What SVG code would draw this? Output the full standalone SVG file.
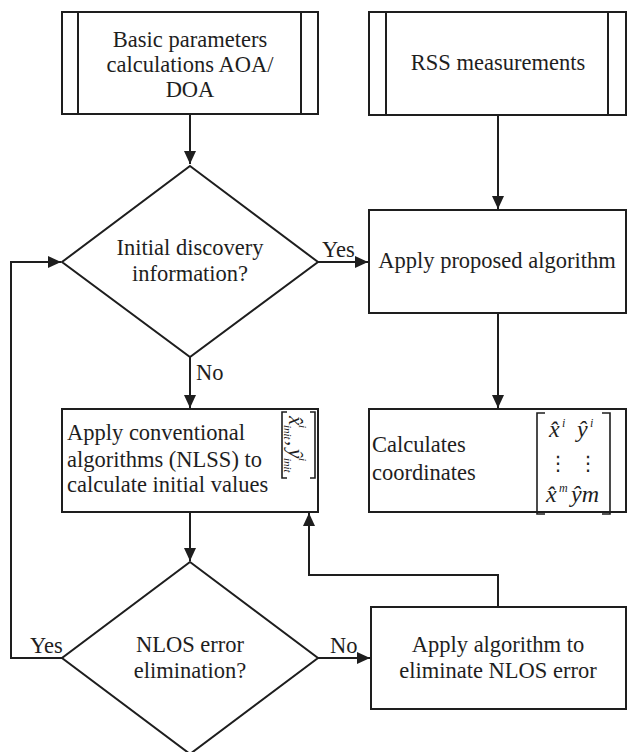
<svg xmlns="http://www.w3.org/2000/svg" width="627" height="752" viewBox="0 0 627 752">
  <style>
    .box { fill: #fff; stroke: #1e1e1e; stroke-width: 2; }
    .edge { fill: none; stroke: #1e1e1e; stroke-width: 2; }
    .brk { fill: none; stroke: #1e1e1e; stroke-width: 1.6; }
    .t { font-family: "Liberation Serif", "Times New Roman", serif; font-size: 22.5px; fill: #1e1e1e; }
    .c { text-anchor: middle; }
    .m { font-family: "Liberation Serif", "Times New Roman", serif; font-style: italic; fill: #1e1e1e; }
    .dots { font-family: "DejaVu Serif", "DejaVu Sans", serif; font-size: 20px; fill: #1e1e1e; text-anchor: middle; }
  </style>
  <defs>
    <marker id="arrow" markerUnits="userSpaceOnUse" markerWidth="14" markerHeight="12" refX="13" refY="6" orient="auto">
      <path d="M0,0 L13,6 L0,12 Z" fill="#1e1e1e"/>
    </marker>
  </defs>
  <rect width="627" height="752" fill="#fff"/>

  <!-- connectors -->
  <g id="connectors">
    <path class="edge" d="M190,114 V164" marker-end="url(#arrow)"/>
    <path class="edge" d="M498,115 V209" marker-end="url(#arrow)"/>
    <path class="edge" d="M318,262 H368" marker-end="url(#arrow)"/>
    <path class="edge" d="M190,357 V408" marker-end="url(#arrow)"/>
    <path class="edge" d="M498,313 V408" marker-end="url(#arrow)"/>
    <path class="edge" d="M190,512 V561" marker-end="url(#arrow)"/>
    <path class="edge" d="M62,658 H11 V262 H61" marker-end="url(#arrow)"/>
    <path class="edge" d="M318,658 H370" marker-end="url(#arrow)"/>
    <path class="edge" d="M498,607 V575 H309 V513" marker-end="url(#arrow)"/>
    <text class="t" x="322" y="257">Yes</text>
    <text class="t" x="196" y="380">No</text>
    <text class="t" x="30" y="653">Yes</text>
    <text class="t" x="330" y="653">No</text>
  </g>

  <!-- predefined process: basic parameters -->
  <g id="basic-params">
    <rect class="box" x="62" y="12" width="256" height="102"/>
    <path class="edge" d="M78,12 V114 M301,12 V114"/>
    <text class="t c" x="190" y="47">Basic parameters</text>
    <text class="t c" x="190" y="72">calculations AOA/</text>
    <text class="t c" x="190" y="97">DOA</text>
  </g>

  <!-- predefined process: RSS -->
  <g id="rss">
    <rect class="box" x="369" y="12" width="257" height="103"/>
    <path class="edge" d="M386,12 V115 M608,12 V115"/>
    <text class="t c" x="498" y="70">RSS measurements</text>
  </g>

  <!-- decision: initial discovery -->
  <g id="initial-discovery">
    <path class="box" d="M190,166 L318,262 L190,357 L62,262 Z"/>
    <text class="t c" x="190" y="255">Initial discovery</text>
    <text class="t c" x="190" y="281">information?</text>
  </g>

  <!-- proposed algorithm -->
  <g id="proposed">
    <rect class="box" x="369" y="210" width="257" height="103"/>
    <text class="t c" x="497" y="268">Apply proposed algorithm</text>
  </g>

  <!-- conventional algorithms -->
  <g id="conventional">
    <rect class="box" x="62" y="409" width="256" height="103"/>
    <text class="t" x="67" y="440">Apply conventional</text>
    <text class="t" x="67" y="467">algorithms (NLSS) to</text>
    <text class="t" x="67" y="492">calculate initial values</text>
    <path class="brk" d="M287,412 H282 V478 H287 M310,412 H315 V478 H310"/>
    <!-- initial estimate vector, set sideways -->
    <g transform="translate(289,412) rotate(90)">
      <text class="m" font-size="21"><tspan x="4" y="0">x&#x302;</tspan><tspan x="13" y="-10" font-size="11">i</tspan><tspan x="13" y="5" font-size="11">init</tspan><tspan x="29" y="1" font-style="normal">,</tspan><tspan x="37" y="0">y&#x302;</tspan><tspan x="46" y="-10" font-size="11">i</tspan><tspan x="46" y="5" font-size="11">init</tspan></text>
    </g>
  </g>

  <!-- coordinates -->
  <g id="coordinates">
    <rect class="box" x="369" y="409" width="257" height="103"/>
    <text class="t" x="372" y="452">Calculates</text>
    <text class="t" x="372" y="480">coordinates</text>
    <path class="brk" d="M545,413 H537 V514 H545 M602,413 H610 V514 H602"/>
    <text class="m" font-size="24"><tspan x="549" y="437">x&#x302;</tspan><tspan x="562" y="427" font-size="12">i</tspan><tspan x="577" y="437">y&#x302;</tspan><tspan x="590" y="427" font-size="12">i</tspan></text>
    <text class="dots"><tspan x="558" y="470">&#x22EE;</tspan><tspan x="588" y="470">&#x22EE;</tspan></text>
    <text class="m" font-size="24"><tspan x="546" y="502">x&#x302;</tspan><tspan x="559" y="492" font-size="12">m</tspan><tspan x="571" y="502">y&#x302;m</tspan></text>
  </g>

  <!-- decision: NLOS -->
  <g id="nlos-decision">
    <path class="box" d="M190,562 L318,658 L190,754 L62,658 Z"/>
    <text class="t c" x="190" y="652">NLOS error</text>
    <text class="t c" x="190" y="678">elimination?</text>
  </g>

  <!-- NLOS elimination -->
  <g id="nlos-eliminate">
    <rect class="box" x="371" y="607" width="255" height="102"/>
    <text class="t c" x="498" y="652">Apply algorithm to</text>
    <text class="t c" x="498" y="678">eliminate NLOS error</text>
  </g>
</svg>
